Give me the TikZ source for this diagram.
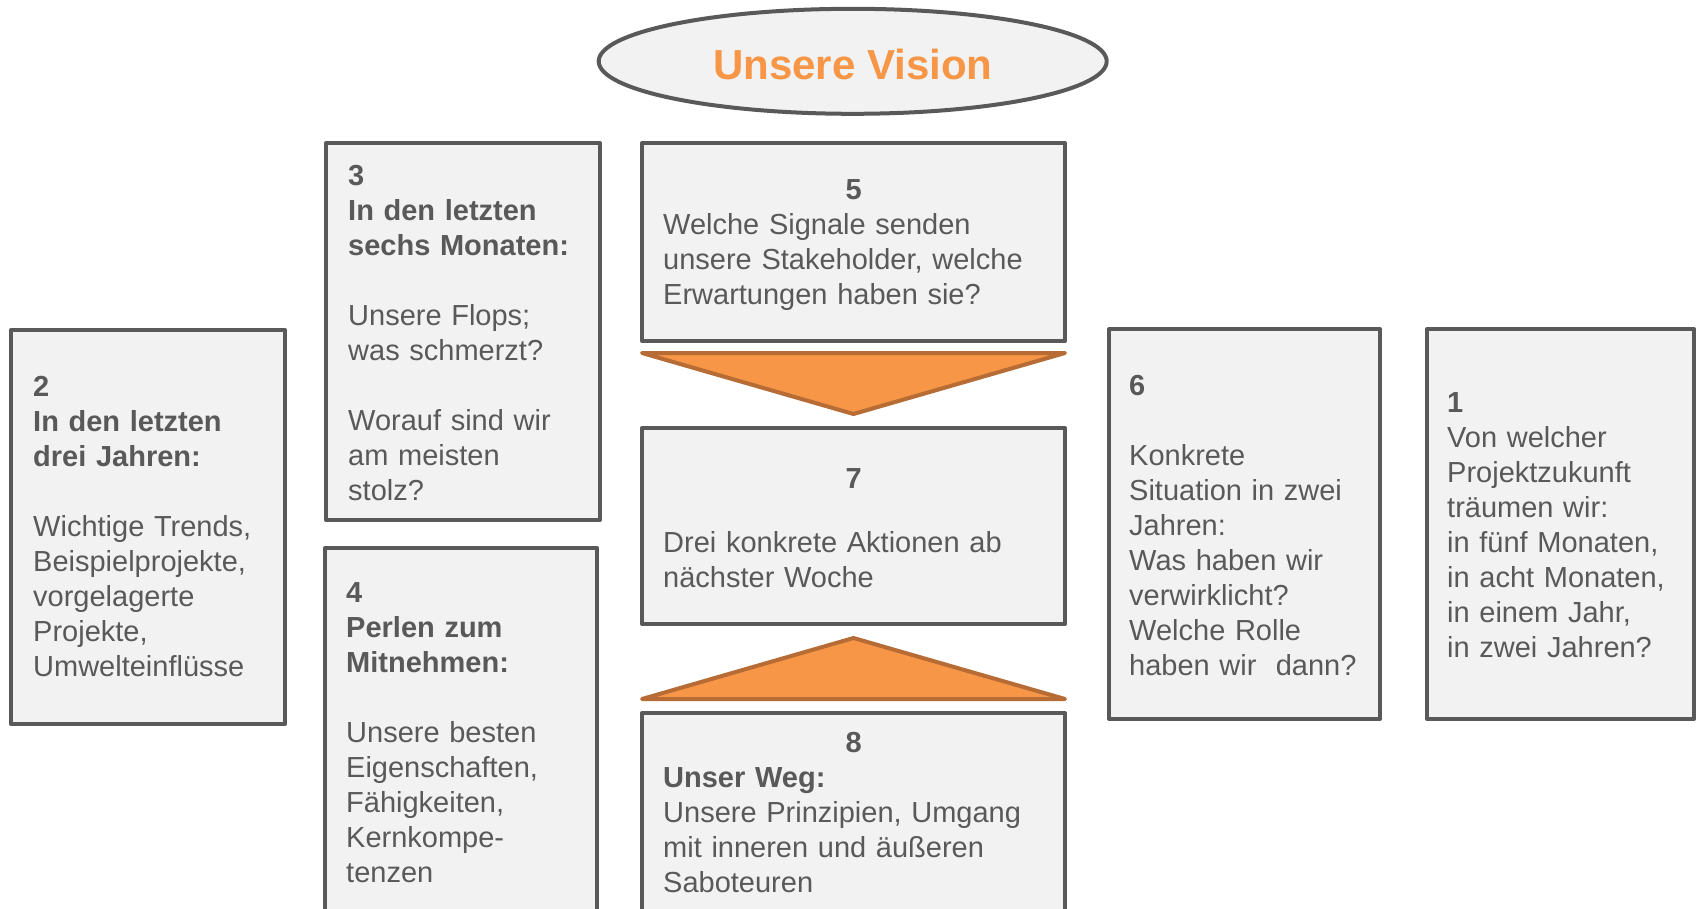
\documentclass[tikz,border=0pt]{standalone}
\usepackage{fontspec}
\setmainfont{Liberation Sans}
\usetikzlibrary{shapes.geometric}
\definecolor{boxgray}{HTML}{595959}
\definecolor{boxfill}{HTML}{F2F2F2}
\definecolor{txtgray}{HTML}{595959}
\definecolor{orangefill}{HTML}{F79646}
\definecolor{orangeline}{HTML}{B66C34}
\begin{document}
\begin{tikzpicture}[x=1pt,y=-1pt,
  panel/.style={draw=boxgray, fill=boxfill, line width=4pt, rectangle, inner sep=0pt, line join=round},
  paneltext/.style={anchor=base west, inner sep=0pt, align=left, text=txtgray, font=\fontsize{29}{35}\selectfont},
  wedgeshape/.style={draw=orangeline, fill=orangefill, line width=4pt, line join=round}]
\clip (0,0) rectangle (1697,908);
\fill[white] (0,0) rectangle (1697,908);

% vision ellipse
\node[draw=boxgray, fill=boxfill, line width=4pt, ellipse, minimum width=508pt, minimum height=105pt,
  inner sep=0pt, text height=35.4pt, text depth=0pt, text=orangefill,
  font=\bfseries\fontsize{42}{50}\selectfont] (vision) at (852.7,61.3) {Unsere Vision};

% panels
\node[panel, minimum width=274pt, minimum height=394pt] (b2) at (148,527) {};
\node[panel, minimum width=274pt, minimum height=377pt] (b3) at (463,331.5) {};
\node[panel, minimum width=272pt, minimum height=382pt] (b4) at (461,739) {};
\node[panel, minimum width=423pt, minimum height=198pt] (b5) at (853.5,242) {};
\node[panel, minimum width=423pt, minimum height=196pt] (b7) at (853.5,526) {};
\node[panel, minimum width=423pt, minimum height=217pt] (b8) at (853.5,821.5) {};
\node[panel, minimum width=271pt, minimum height=390pt] (b6) at (1244.5,524) {};
\node[panel, minimum width=267pt, minimum height=390pt] (b1) at (1560.5,524) {};

% orange wedges
\draw[wedgeshape] (642,353) -- (1065,353) -- (853.5,414) -- cycle;
\draw[wedgeshape] (642,699) -- (1065,699) -- (853.5,638) -- cycle;

% texts
\node[paneltext, text width=245pt] (t2) at (33,396)
  {\textbf{2}\\\textbf{In den letzten}\\\textbf{drei Jahren:}\\[35pt]Wichtige Trends,\\Beispielprojekte,\\vorgelagerte\\Projekte,\\Umwelteinflüsse};
\node[paneltext, text width=245pt] (t3) at (348,185)
  {\textbf{3}\\\textbf{In den letzten}\\\textbf{sechs Monaten:}\\[35pt]Unsere Flops;\\was schmerzt?\\[35pt]Worauf sind wir\\am meisten\\stolz?};
\node[paneltext, text width=240pt] (t4) at (346,602)
  {\textbf{4}\\\textbf{Perlen zum}\\\textbf{Mitnehmen:}\\[35pt]Unsere besten\\Eigenschaften,\\Fähigkeiten,\\Kernkompe-\\tenzen};
\node[paneltext, text width=381pt] (t5) at (663,199.5)
  {\makebox[\linewidth]{\bfseries 5}\\Welche Signale senden\\unsere Stakeholder, welche\\Erwartungen haben sie?};
\node[paneltext, text width=381pt] (t7) at (663,488)
  {\makebox[\linewidth]{\bfseries 7}\\[29pt]Drei konkrete Aktionen ab\\nächster Woche};
\node[paneltext, text width=381pt] (t8) at (663,752)
  {\makebox[\linewidth]{\bfseries 8}\\\textbf{Unser Weg:}\\Unsere Prinzipien, Umgang\\mit inneren und äußeren\\Saboteuren};
\node[paneltext, text width=245pt] (t6) at (1129,395)
  {\textbf{6}\\[35pt]Konkrete\\Situation in zwei\\Jahren:\\Was haben wir\\verwirklicht?\\Welche Rolle\\haben wir\ \ dann?};
\node[paneltext, text width=240pt] (t1) at (1447,412)
  {\textbf{1}\\Von welcher\\Projektzukunft\\träumen wir:\\in fünf Monaten,\\in acht Monaten,\\in einem Jahr,\\in zwei Jahren?};
\end{tikzpicture}
\end{document}
